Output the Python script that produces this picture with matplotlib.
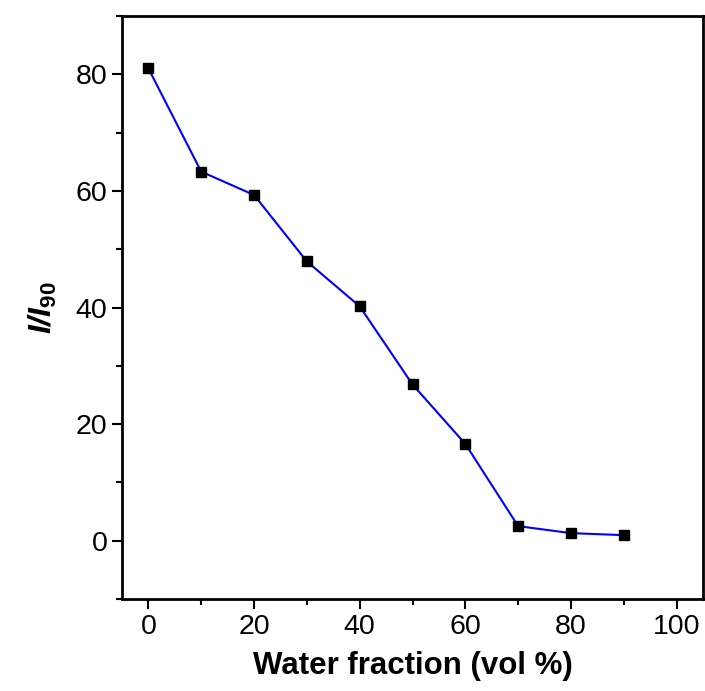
import numpy as np
import matplotlib.pyplot as plt
from matplotlib.ticker import MultipleLocator

water = np.array([0, 10, 20, 30, 40, 50, 60, 70, 80, 90])
ratio = np.array([81.0, 63.3, 59.3, 47.9, 40.2, 26.8, 16.6, 2.5, 1.3, 0.95])

plt.rcParams['font.family'] = ['Liberation Sans', 'DejaVu Sans']
plt.rcParams['mathtext.fontset'] = 'custom'
plt.rcParams['mathtext.bf'] = 'Liberation Sans:bold'
plt.rcParams['mathtext.bfit'] = 'Liberation Sans:italic:bold'
plt.rcParams['mathtext.it'] = 'Liberation Sans:italic'
plt.rcParams['mathtext.rm'] = 'Liberation Sans'

fig = plt.figure(figsize=(7.05, 6.91), dpi=100)
ax = fig.add_axes([122/705, 1 - 599/691, (703-122)/705, (599-16)/691])

ax.plot(water, ratio, '-', color='#0000ff', lw=1.5)
ax.plot(water, ratio, 's', color='black', ms=7.5)

ax.set_xlim(-5, 105)
ax.set_ylim(-10, 90)
ax.xaxis.set_major_locator(MultipleLocator(20))
ax.xaxis.set_minor_locator(MultipleLocator(10))
ax.yaxis.set_major_locator(MultipleLocator(20))
ax.yaxis.set_minor_locator(MultipleLocator(10))
ax.set_yticks([0, 20, 40, 60, 80])

ax.tick_params(which='both', direction='out', width=1.5, labelsize=20.5)
ax.tick_params(which='major', length=7)
ax.tick_params(which='minor', length=4)
ax.tick_params(top=False, right=False)
for s in ax.spines.values():
    s.set_linewidth(2)

ax.set_xlabel('Water fraction (vol %)', fontsize=22.5, fontweight='bold', labelpad=8)
ax.set_ylabel(r'$\mathbfit{I/I}_{\mathbf{90}}$', fontsize=23, labelpad=12)

plt.savefig('out.png', dpi=100)
